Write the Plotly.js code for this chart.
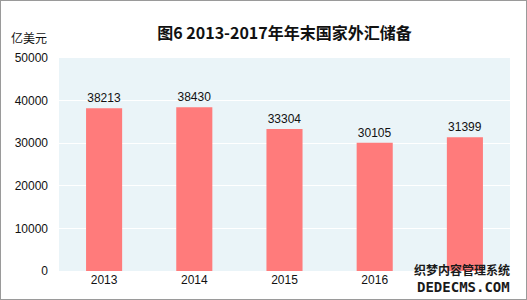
<!DOCTYPE html>
<html>
<head>
<meta charset="utf-8">
<script src="https://cdn.plot.ly/plotly-3.0.1.min.js"></script>
<style>
html,body{margin:0;padding:0;background:#fff;}
#wrap{position:relative;width:527px;height:300px;}
#chart{width:527px;height:300px;}
#frame{position:absolute;left:0;top:0;width:527px;height:300px;box-sizing:border-box;border:1px solid #9a9a9a;pointer-events:none;}
</style>
</head>
<body>
<div id="wrap"><div id="chart"></div><div id="frame"></div></div>
<script>
const years = ['2013', '2014', '2015', '2016', '2017'];
const reserves = [38213, 38430, 33304, 30105, 31399];
const xTickLabels = ['2013', '2014', '2015', '2016'];
const tickVals = [0, 10000, 20000, 30000, 40000, 50000];
const tickText = ['0', '10000', '20000', '30000', '40000', '50000'];
const titleText = '图6 2013-2017年年末国家外汇储备';
const unitText = '亿美元';
const watermark1 = '织梦内容管理系统';
const watermark2 = 'DEDECMS.COM';

const FONT = 'Liberation Sans, Noto Sans CJK SC, sans-serif';

const trace = {
  type: 'bar',
  x: years,
  y: reserves,
  marker: {color: '#ff7b7b'},
  text: reserves.map(String),
  textposition: 'outside',
  textfont: {family: FONT, size: 12, color: '#111'},
  cliponaxis: false,
  hoverinfo: 'none'
};

const layout = {
  width: 527,
  height: 300,
  margin: {l: 59, r: 17, t: 58, b: 29, pad: 0},
  paper_bgcolor: '#ffffff',
  plot_bgcolor: '#eaf4f8',
  bargap: 0.6,
  showlegend: false,
  font: {family: FONT, size: 12, color: '#111'},
  title: {
    text: titleText,
    font: {family: 'Noto Sans CJK SC, sans-serif', size: 16, color: '#111', weight: 'bold'},
    x: 0.5, xref: 'paper', xanchor: 'center',
    y: 0.89, yref: 'container', yanchor: 'middle'
  },
  xaxis: {
    type: 'category',
    tickvals: xTickLabels,
    ticktext: xTickLabels,
    showgrid: false,
    showline: false,
    zeroline: false,
    ticks: '',
    ticklen: 0,
    tickfont: {family: FONT, size: 12, color: '#111'},
    fixedrange: true
  },
  yaxis: {
    range: [0, 50000],
    tickvals: tickVals,
    ticktext: tickText,
    showgrid: true,
    gridcolor: '#ffffff',
    gridwidth: 1,
    zeroline: false,
    showline: false,
    ticks: '',
    ticklabelstandoff: 10,
    tickfont: {family: FONT, size: 12, color: '#111'},
    fixedrange: true
  },
  annotations: [
    {
      text: unitText, xref: 'paper', yref: 'paper',
      x: -0.022, y: 1.095, xanchor: 'right', yanchor: 'middle',
      showarrow: false,
      font: {family: 'Noto Sans CJK SC, sans-serif', size: 12, color: '#111'}
    },
    {
      text: watermark1, xref: 'paper', yref: 'paper',
      x: 1.004, y: 0.005, xanchor: 'right', yanchor: 'middle',
      showarrow: false,
      font: {family: 'Noto Sans CJK SC, sans-serif', size: 12, color: '#1a1a1a', weight: 'bold'}
    },
    {
      text: watermark2, xref: 'paper', yref: 'paper',
      x: 1.004, y: -0.075, xanchor: 'right', yanchor: 'middle',
      showarrow: false,
      font: {family: 'DejaVu Sans Mono, monospace', size: 14, color: '#1a1a1a', weight: 'bold'}
    }
  ]
};

Plotly.newPlot('chart', [trace], layout, {displayModeBar: false, staticPlot: true});
</script>
</body>
</html>
